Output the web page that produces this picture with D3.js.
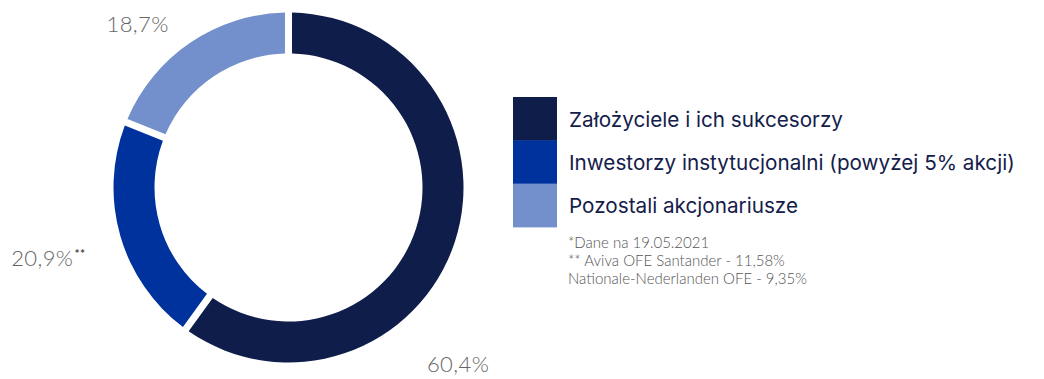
<!DOCTYPE html>
<html>
<head>
<meta charset="utf-8">
<script src="https://cdn.jsdelivr.net/npm/d3@7"></script>
<style>
  html, body { margin: 0; padding: 0; background: #fff; }
  svg { display: block; }
</style>
</head>
<body>
<svg id="chart" width="1044" height="379"></svg>
<script>
// Shareholder structure (share of votes, %)
const categories = [
  "Założyciele i ich sukcesorzy",
  "Inwestorzy instytucjonalni (powyżej 5% akcji)",
  "Pozostali akcjonariusze"
];
const shares = [60.4, 20.9, 18.7];
const valueLabels = ["60,4%", "20,9%", "18,7%"];
const labelMarks = ["", "**", ""];
const colors = ["#0f1d4b", "#00329d", "#7490cc"];
const footnotes = [
  "*Dane na 19.05.2021",
  "** Aviva OFE Santander - 11,58%",
  "Nationale-Nederlanden OFE - 9,35%"
];

const svg = d3.select("#chart");
const W = 1044, H = 379;
svg.append("rect").attr("width", W).attr("height", H).attr("fill", "#fff");

// ---- donut ----
const cx = 288.5, cy = 187.5;
const outerR = 175, innerR = 134;

const pie = d3.pie().sort(null).value(d => d).padAngle(0.032);
const arcs = pie(shares);
const arc = d3.arc().innerRadius(innerR).outerRadius(outerR);

const g = svg.append("g").attr("transform", `translate(${cx},${cy})`);
g.selectAll("path.slice")
  .data(arcs)
  .join("path")
  .attr("class", "slice")
  .attr("d", arc)
  .attr("fill", (d, i) => colors[i]);

// value labels placed around the ring (angle from slice mid-angle + offset, radius)
const labelPlacement = [
  { dAngle: 28.0, r: 244 },   // 60,4%
  { dAngle: 0.0, r: 250 },    // 20,9%
  { dAngle: -8.5, r: 223 }    // 18,7%
];
const labels = g.selectAll("text.val")
  .data(arcs)
  .join("text")
  .attr("class", "val")
  .attr("text-anchor", "middle")
  .attr("dominant-baseline", "central")
  .attr("font-family", "Lato, 'Open Sans', sans-serif")
  .attr("font-weight", 300)
  .attr("font-size", 22)
  .attr("letter-spacing", 0.4)
  .attr("fill", "#666")
  .attr("transform", (d, i) => {
    const mid = (d.startAngle + d.endAngle) / 2 + labelPlacement[i].dAngle * Math.PI / 180;
    const r = labelPlacement[i].r;
    return `translate(${r * Math.sin(mid)},${-r * Math.cos(mid)})`;
  });
labels.append("tspan").text((d, i) => valueLabels[i]);
labels.append("tspan")
  .text((d, i) => labelMarks[i])
  .attr("font-size", 12)
  .attr("font-weight", 700)
  .attr("fill", "#444")
  .attr("dx", 1)
  .attr("dy", -4);

// ---- legend ----
const legendX = 513, legendY = 97, swW = 44, swH = 43.3;
const legend = svg.append("g").attr("transform", `translate(${legendX},${legendY})`);
const items = legend.selectAll("g.item")
  .data(categories)
  .join("g")
  .attr("class", "item")
  .attr("transform", (d, i) => `translate(0,${i * swH})`);
items.append("rect")
  .attr("width", swW)
  .attr("height", swH + 0.5)
  .attr("fill", (d, i) => colors[i]);
items.append("text")
  .attr("x", 56)
  .attr("y", swH / 2 + 8)
  .attr("font-family", "Inter, 'Open Sans', sans-serif")
  .attr("font-size", 20.7)
  .attr("fill", "#14204a")
  .text(d => d);

// ---- footnotes ----
svg.append("g")
  .selectAll("text")
  .data(footnotes)
  .join("text")
  .attr("x", 568)
  .attr("y", (d, i) => 248 + i * 18)
  .attr("font-family", "Lato, 'Open Sans', sans-serif")
  .attr("font-weight", 300)
  .attr("font-size", 15)
  .attr("fill", "#555")
  .text(d => d);
</script>
</body>
</html>
